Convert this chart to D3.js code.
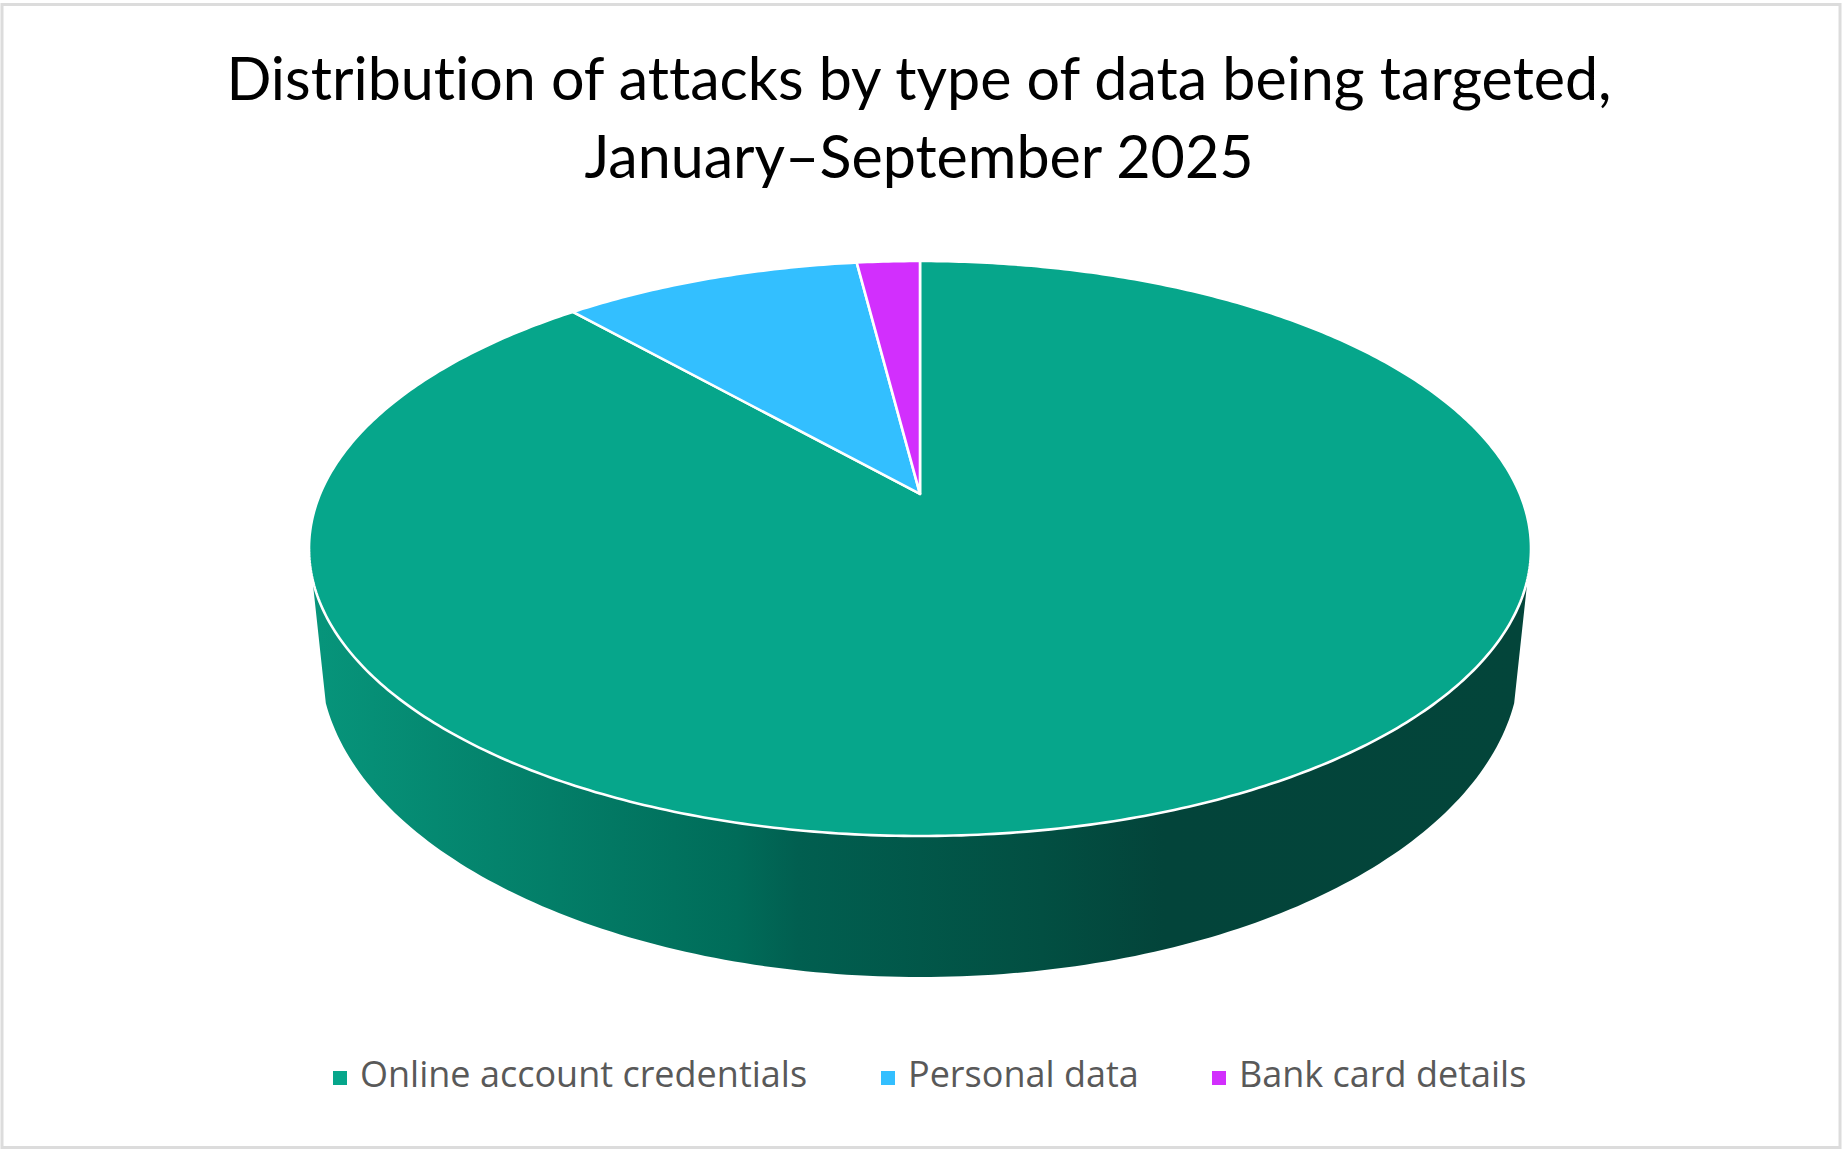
<!DOCTYPE html>
<html>
<head>
<meta charset="utf-8">
<script src="https://cdn.jsdelivr.net/npm/d3@7"></script>
<style>
html, body { margin: 0; padding: 0; background: #fff; }
svg { display: block; }
</style>
</head>
<body>
<div id="chart"></div>
<script>
var width = 1842;
var height = 1150;

var titleLines = ["Distribution of attacks by type of data being targeted,", "January–September 2025"];
var categories = ["Online account credentials", "Personal data", "Bank card details"];
var shares = [88.5, 9.5, 2];
var colors = ["#06a68b", "#33bfff", "#d22ffd"];

var svg = d3.select("#chart").append("svg")
	.attr("width", width)
	.attr("height", height);

//chart frame
svg.append("rect")
	.attr("x", 2).attr("y", 4.5)
	.attr("width", width - 4).attr("height", height - 7)
	.attr("fill", "#fff")
	.attr("stroke", "#dcdcdc")
	.attr("stroke-width", 3);

//rim ellipses of the tilted disc, the lower one sits further away from the viewer
var topRim = {cx: 920, cy: 548.5, rx: 611, ry: 287.5};
var bottomRim = {cx: 920, cy: 659, rx: 600, ry: 318};
//where the pie centre lands inside the top ellipse (perspective moves it up)
var centreShift = 0.19;

var xTop = d3.scaleLinear().domain([-1, 1]).range([topRim.cx - topRim.rx, topRim.cx + topRim.rx]);
var yTop = d3.scaleLinear().domain([-1, 1]).range([topRim.cy - topRim.ry, topRim.cy + topRim.ry]);

//pie angle -> point on the top ellipse, projective so that the centre stays at centreShift
function project(r, a) {
	var u = r * Math.sin(a);
	var v = -r * Math.cos(a);
	var k = centreShift;
	var d = 1 - k * v;
	return [xTop(u * Math.sqrt(1 - k * k) / d), yTop((v - k) / d)];
}

var pie = d3.pie().sort(null)(shares);
var line = d3.line();

//side wall, visible part only
function rimPoint(rim, a) {
	return [rim.cx + rim.rx * Math.sin(a), rim.cy + rim.ry * Math.cos(a)];
}
var wallTop = d3.range(-84, 84.5, 1).map(function(d) { return rimPoint(topRim, d * Math.PI / 180); });
var wallBottom = d3.range(82, -82.5, -1).map(function(d) { return rimPoint(bottomRim, d * Math.PI / 180); });

var wallGrad = svg.append("defs").append("linearGradient")
	.attr("id", "wall")
	.attr("gradientUnits", "userSpaceOnUse")
	.attr("x1", 310).attr("x2", 1530).attr("y1", 0).attr("y2", 0);
wallGrad.selectAll("stop")
	.data([[0, "#07957b"], [0.35, "#006c59"], [0.4, "#015f50"], [0.6, "#024f42"], [0.7, "#03443a"], [1, "#03453a"]])
	.enter().append("stop")
	.attr("offset", function(d) { return d[0]; })
	.attr("stop-color", function(d) { return d[1]; });

svg.append("path")
	.attr("d", line(wallTop.concat(wallBottom)) + "Z")
	.attr("fill", "url(#wall)");

//top face slices
svg.selectAll("path.slice")
	.data(pie)
	.enter().append("path")
	.attr("class", "slice")
	.attr("d", function(d) {
		var n = Math.max(4, Math.ceil((d.endAngle - d.startAngle) * 90));
		var pts = d3.range(n + 1).map(function(i) {
			return project(1, d.startAngle + (d.endAngle - d.startAngle) * i / n);
		});
		return line([project(0, 0)].concat(pts)) + "Z";
	})
	.attr("fill", function(d, i) { return colors[i]; })
	.attr("stroke", "#fff")
	.attr("stroke-width", 2.6)
	.attr("stroke-linejoin", "round");

//title
svg.selectAll("text.title")
	.data(titleLines)
	.enter().append("text")
	.attr("class", "title")
	.attr("x", 919)
	.attr("y", function(d, i) { return 100 + i * 78; })
	.attr("text-anchor", "middle")
	.attr("font-family", "Lato, sans-serif")
	.attr("font-size", 59.2)
	.style("font-variant-ligatures", "none")
	.attr("fill", "#000")
	.text(function(d) { return d; });

//legend
var legendX = [333, 881, 1212];
var legend = svg.selectAll("g.legend")
	.data(categories)
	.enter().append("g")
	.attr("class", "legend")
	.attr("transform", function(d, i) { return "translate(" + legendX[i] + ",1071)"; });
legend.append("rect")
	.attr("width", 14).attr("height", 14)
	.attr("fill", function(d, i) { return colors[i]; });
legend.append("text")
	.attr("x", 27)
	.attr("y", 16)
	.attr("font-family", "'Open Sans', sans-serif")
	.attr("font-size", 36)
	.attr("fill", "#595959")
	.text(function(d) { return d; });
</script>
</body>
</html>
